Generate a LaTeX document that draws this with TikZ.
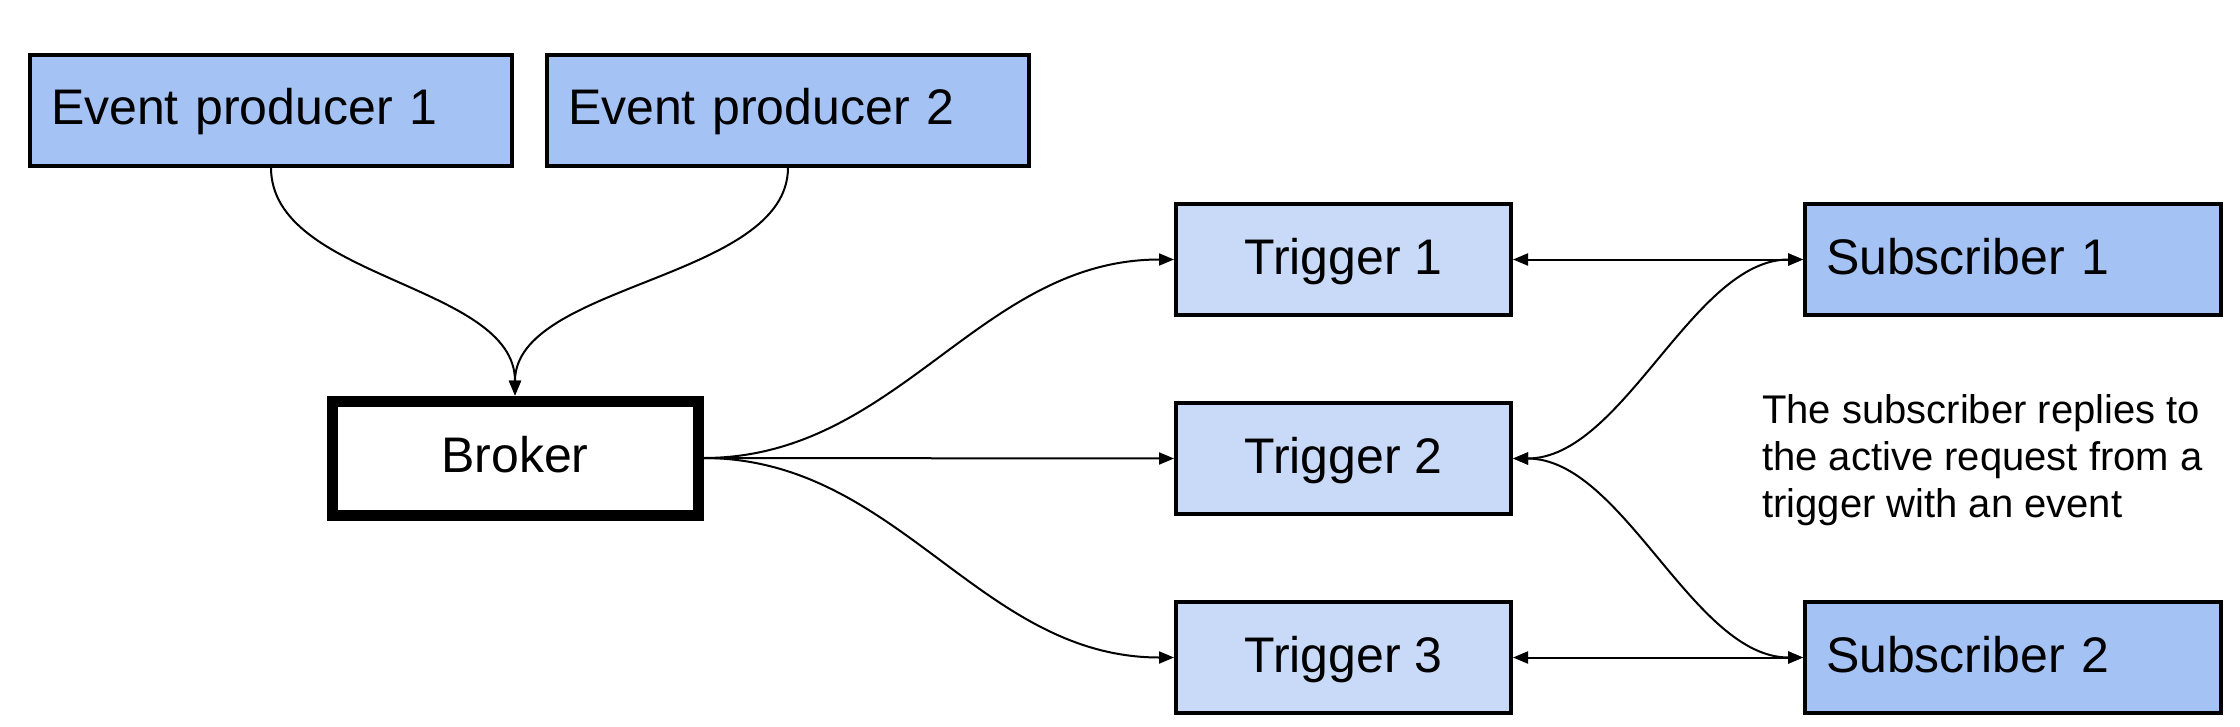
\documentclass[tikz,border=0pt]{standalone}
\usepackage{fontspec}
\setmainfont{Liberation Sans}
\usetikzlibrary{arrows.meta}
\definecolor{boxblue}{HTML}{A4C2F4}
\definecolor{trigblue}{HTML}{C9DAF8}
\begin{document}
\begin{tikzpicture}[x=1pt,y=-1pt,
  basebox/.style={draw=black, line width=4pt, text height=35.8pt, text depth=6pt,
    font=\fontsize{50}{60}\selectfont, inner ysep=0pt},
  leftbox/.style={basebox, fill=boxblue, align=left, inner xsep=21pt, minimum height=111pt},
  trigbox/.style={basebox, fill=trigblue, minimum width=335pt, minimum height=111pt},
  brokerbox/.style={basebox, fill=white, line width=11pt, minimum width=366pt, minimum height=114pt},
  conn/.style={line width=2pt, -{Triangle[length=15pt,width=12pt]}},
  biconn/.style={line width=2pt, {Triangle[length=15pt,width=12pt]}-{Triangle[length=15pt,width=12pt]}},
  note/.style={font=\fontsize{40}{47}\selectfont, align=left, inner sep=0pt}
]
\useasboundingbox (0,0) rectangle (2240,726);
\node[leftbox, text width=440pt] (ep1) at (271,110) {Event producer 1};
\node[leftbox, text width=440pt] (ep2) at (788,110) {Event producer 2};
\node[brokerbox] (broker) at (515,458) {Broker};
\node[trigbox] (t1) at (1343.5,259.5) {Trigger 1};
\node[trigbox] (t2) at (1343.5,458.5) {Trigger 2};
\node[trigbox] (t3) at (1343.5,657.5) {Trigger 3};
\node[leftbox, text width=374pt] (s1) at (2013,259.5) {Subscriber 1};
\node[leftbox, text width=374pt] (s2) at (2013,657.5) {Subscriber 2};
\node[note, anchor=base west] (txt) at (1762,517) {The subscriber replies to\\the active request from a\\trigger with an event};

\draw[conn] (ep1.south) .. controls +(0,112) and +(0,-112) .. (broker.north);
\draw[conn] (ep2.south) .. controls +(0,112) and +(0,-112) .. (broker.north);
\draw[conn] (broker.east) .. controls +(195,0) and +(-195,0) .. (t1.west);
\draw[conn] (broker.east) -- (t2.west);
\draw[conn] (broker.east) .. controls +(195,0) and +(-195,0) .. (t3.west);
\draw[biconn] (t1.east) -- (s1.west);
\draw[biconn] (s1.west) .. controls +(-110,0) and +(110,0) .. (t2.east);
\draw[biconn] (t2.east) .. controls +(110,0) and +(-110,0) .. (s2.west);
\draw[biconn] (t3.east) -- (s2.west);
\end{tikzpicture}
\end{document}
